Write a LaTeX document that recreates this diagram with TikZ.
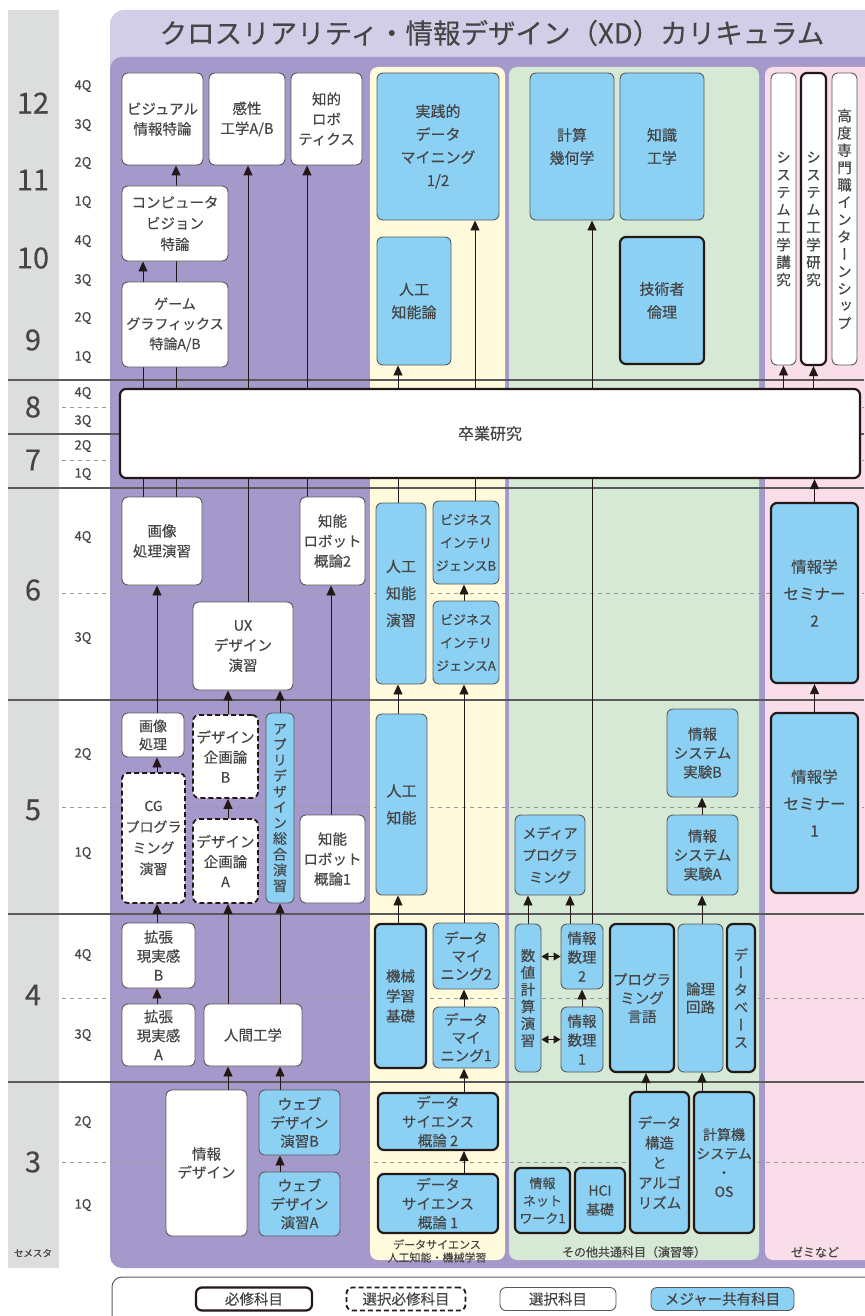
\documentclass[tikz,border=0pt]{standalone}
\usepackage{fontspec}
\setmainfont{Noto Sans CJK JP}[FakeBold=0.3]
\newfontfamily\tatefont[RawFeature=+vert, FakeBold=0.3]{Noto Sans CJK JP}
\usepackage{tikz}
\usetikzlibrary{positioning, arrows.meta, backgrounds}

\definecolor{semgray}{HTML}{DCDDDD}
\definecolor{titlelav}{HTML}{D3CEE7}
\definecolor{xdpurple}{HTML}{A598CA}
\definecolor{dsyellow}{HTML}{FFFADC}
\definecolor{comgreen}{HTML}{D5E9D5}
\definecolor{zemipink}{HTML}{F9DDE9}
\definecolor{majorblue}{HTML}{8CD0F3}
\definecolor{inkgray}{HTML}{454545}
\definecolor{rulegray}{HTML}{5A5A5A}
\definecolor{edgedark}{HTML}{231815}

\pgfdeclarelayer{panels}
\pgfdeclarelayer{wires}
\pgfsetlayers{panels,wires,main}

\begin{document}
\begin{tikzpicture}[x=1pt, y=-1pt,
    box/.style={rounded corners=6pt, draw=rulegray, line width=0.9pt, align=center,
                text=inkgray, inner sep=0pt, font=\fontsize{14.5}{20}\selectfont},
    wbox/.style={box, fill=white},
    bbox/.style={box, fill=majorblue},
    req/.style={draw=edgedark, line width=2.2pt},
    sel/.style={draw=edgedark, line width=1.8pt, dash pattern=on 5pt off 3pt},
    sz/.style 2 args={minimum width=#1pt, minimum height=#2pt},
    fs/.style 2 args={font=\fontsize{#1}{#2}\selectfont},
    tate/.style 2 args={font=\tatefont\fontsize{#1}{#2}\selectfont},
    arr/.style={-{Triangle[length=10pt,width=9pt]}, line width=0.9pt, draw=edgedark},
    dblarr/.style={{Triangle[length=7pt,width=8pt]}-{Triangle[length=7pt,width=8pt]}, line width=0.9pt, draw=edgedark},
    semrule/.style={draw=rulegray, line width=1.1pt},
    qrule/.style={draw=gray!80, line width=0.6pt, dash pattern=on 4pt off 4pt},
    semno/.style={text=inkgray, font=\fontsize{29}{29}\selectfont},
    qlab/.style={text=inkgray, font=\fontsize{13}{13}\selectfont},
    panelcap/.style={text=inkgray, align=center, font=\fontsize{11}{13}\selectfont}]

\useasboundingbox (0,0) rectangle (864,1316);

% Background panels
\begin{pgfonlayer}{panels}
    \fill[semgray] (8,10) rectangle (59,1268);
    \fill[titlelav, rounded corners=14pt] (110,10) rectangle (890,80);
    \fill[xdpurple, rounded corners=12pt] (110,57) rectangle (890,1268);
    \fill[dsyellow, rounded corners=8pt] (370,67) rectangle (505,1260);
    \fill[comgreen, rounded corners=8pt] (509,67) rectangle (759,1260);
    \fill[zemipink, rounded corners=8pt] (765,67) rectangle (890,1260);
    \draw[draw=rulegray, line width=1pt, fill=white, rounded corners=10pt] (112,1277) rectangle (890,1340);
\end{pgfonlayer}

% Semester and quarter rules
\begin{pgfonlayer}{wires}
    \foreach \y in {380,434,488,700,914,1082} {
        \draw[semrule] (8,\y) -- (864,\y);
    }
    \foreach \y in {407,460,593,807,998,1162} {
        \draw[qrule] (62,\y) -- (864,\y);
    }
\end{pgfonlayer}

\node[text=inkgray, font=\fontsize{27.5}{28}\selectfont] (title) at (492,33)
    {クロスリアリティ・情報デザイン（XD）カリキュラム};

% Semester numbers and quarters
\foreach \y/\s in {103/12,180/11,258/10,340/9,407/8,460/7,590/6,810/5,995/4,1162/3} {
    \node[semno] (s\s) at (33,\y) {\s};
}
\foreach \y/\q [count=\k] in {86/4Q,125/3Q,163/2Q,202/1Q,241/4Q,280/3Q,318/2Q,357/1Q,
        393/4Q,421/3Q,446/2Q,474/1Q,537/4Q,638/3Q,754/2Q,853/1Q,955/4Q,1035/3Q,1122/2Q,1205/1Q} {
    \node[qlab] (q\k) at (83,\y) {\q};
}
\node[text=inkgray, font=\fontsize{9.5}{10}\selectfont] (semesta) at (33,1253) {セメスタ};

% XD courses, semesters 9-12
\node[wbox, sz={81}{92}] (vis) at (162.5,119) {ビジュアル\\情報特論};
\node[wbox, sz={76}{92}] (kansei) at (247,119) {感性\\工学A/B};
\node[wbox, sz={71}{92}] (chiteki) at (326.5,119) {知的\\ロボ\\ティクス};
\node[wbox, sz={106}{75}, fs={14.5}{21}] (cv) at (175,223.5) {コンピュータ\\ビジョン\\特論};
\node[wbox, sz={106}{85}, fs={14}{20}] (game) at (175,324.5) {ゲーム\\グラフィックス\\特論A/B};

% Data science, semesters 9-12
\node[bbox, sz={122}{147}, fs={15}{23}] (prdm) at (438,146.5) {実践的\\データ\\マイニング\\1/2};
\node[bbox, sz={74}{128}, fs={15}{23}] (ail) at (414,301) {人工\\知能論};

% Common courses, semesters 9-12
\node[bbox, sz={84}{147}, fs={15}{23}] (geom) at (572,146.5) {計算\\幾何学};
\node[bbox, sz={84}{147}, fs={15}{23}] (know) at (662,146.5) {知識\\工学};
\node[bbox, req, sz={84}{127}, fs={15}{23}] (ethics) at (662,300.5) {技術者\\倫理};

% Seminars, semesters 9-12
\node[wbox, sz={25}{292}, tate={14.5}{17.5}] (kokyu) at (783.5,219) {シ\\ス\\テ\\ム\\工\\学\\講\\究};
\node[wbox, req, sz={25}{292}, tate={14.5}{17.5}] (kenkyu) at (813.5,219) {シ\\ス\\テ\\ム\\工\\学\\研\\究};
\node[wbox, sz={25}{292}, tate={14.5}{17.3}] (intern) at (844.5,219)
    {高\\度\\専\\門\\職\\イ\\ン\\タ\\ー\\ン\\シ\\ッ\\プ};

% Graduation research
\node[wbox, req, sz={740}{89}, fs={16}{20}] (thesis) at (490,433.5) {卒業研究};

% Semester 6
\node[wbox, sz={80}{88}] (imgpe) at (162,541) {画像\\処理演習};
\node[wbox, sz={100}{88}] (ux) at (243,646) {UX\\デザイン\\演習};
\node[wbox, sz={65}{88}] (robo2) at (332.5,541) {知能\\ロボット\\概論2};
\node[bbox, sz={50}{181}, fs={15}{27}] (aipe) at (401,593.5) {人工\\知能\\演習};
\node[bbox, sz={66}{83}, fs={13}{23}] (biB) at (466,542.5) {ビジネス\\インテリ\\ジェンスB};
\node[bbox, sz={66}{83}, fs={13}{23}] (biA) at (466,642.5) {ビジネス\\インテリ\\ジェンスA};
\node[bbox, req, sz={87}{180}, fs={15.5}{27}] (zemi2) at (814.5,593) {情報学\\セミナー\\2};

% Semester 5
\node[wbox, sz={62}{44}, fs={14}{18}] (imgp) at (153,735) {画像\\処理};
\node[wbox, sel, sz={63}{130}, fs={14}{21}] (cg) at (153.5,838) {CG\\プログラ\\ミング\\演習};
\node[wbox, sel, sz={65}{83}] (desB) at (225.5,756.5) {デザイン\\企画論\\B};
\node[wbox, sel, sz={65}{84}] (desA) at (225.5,861) {デザイン\\企画論\\A};
\node[bbox, sz={28}{190}, tate={14}{15.7}] (app) at (280,808) {ア\\プ\\リ\\デ\\ザ\\イ\\ン\\総\\合\\演\\習};
\node[wbox, sz={65}{88}] (robo1) at (332.5,859) {知能\\ロボット\\概論1};
\node[bbox, sz={51}{181}, fs={15}{27}] (ai) at (401.5,804.5) {人工\\知能};
\node[bbox, sz={70}{80}, fs={14}{22}] (media) at (550,855) {メディア\\プログラ\\ミング};
\node[bbox, sz={71}{88}, fs={14.5}{19}] (sysB) at (702.5,753) {情報\\システム\\実験B};
\node[bbox, sz={71}{80}, fs={14.5}{19}] (sysA) at (702.5,855) {情報\\システム\\実験A};
\node[bbox, req, sz={87}{180}, fs={15.5}{27}] (zemi1) at (814.5,803) {情報学\\セミナー\\1};

% Semester 4
\node[wbox, sz={73}{65}, fs={14.5}{19}] (arB) at (158.5,955.5) {拡張\\現実感\\B};
\node[wbox, sz={73}{62}, fs={14.5}{19}] (arA) at (158.5,1035) {拡張\\現実感\\A};
\node[wbox, sz={98}{62}] (hum) at (253,1035) {人間工学};
\node[bbox, req, sz={51}{144}] (ml) at (400.5,996) {機械\\学習\\基礎};
\node[bbox, sz={66}{66}, fs={14.5}{18}] (dm2) at (466,956) {データ\\マイ\\ニング2};
\node[bbox, sz={66}{61}, fs={14.5}{18}] (dm1) at (466,1037.5) {データ\\マイ\\ニング1};
\node[bbox, sz={26}{148}, tate={14.5}{17}] (num) at (528,998) {数\\値\\計\\算\\演\\習};
\node[bbox, sz={42}{65}, fs={14.5}{19}] (math2) at (582,956.5) {情報\\数理\\2};
\node[bbox, sz={42}{65}, fs={14.5}{19}] (math1) at (582,1039.5) {情報\\数理\\1};
\node[bbox, req, sz={64}{148}, fs={14.5}{18.5}] (plang) at (642,998) {プログラ\\ミング\\言語};
\node[bbox, sz={45}{148}, fs={14.5}{18}] (lc) at (700.5,998) {論理\\回路};
\node[bbox, req, sz={28}{148}, tate={14.5}{17.5}] (db) at (741,998) {デ\\ー\\タ\\ベ\\ー\\ス};

% Semester 3
\node[wbox, sz={81}{146}, fs={14.5}{18.5}] (infd) at (206.5,1163) {情報\\デザイン};
\node[bbox, sz={81}{65}, fs={14.5}{18.5}] (webB) at (299.5,1122.5) {ウェブ\\デザイン\\演習B};
\node[bbox, sz={81}{64}, fs={14.5}{18.5}] (webA) at (299.5,1204) {ウェブ\\デザイン\\演習A};
\node[bbox, req, sz={120}{57}, fs={14.5}{19}] (ds2) at (438,1121.5) {データ\\サイエンス\\概論 2};
\node[bbox, req, sz={120}{59}, fs={14.5}{19}] (ds1) at (438,1203.5) {データ\\サイエンス\\概論 1};
\node[bbox, req, sz={55}{65}, fs={13}{17.5}] (net) at (542.5,1200.5) {情報\\ネット\\ワーク1};
\node[bbox, req, sz={50}{65}, fs={14}{19}] (hci) at (600,1200.5) {HCI\\基礎};
\node[bbox, req, sz={59}{141}, fs={14.5}{20}] (dsa) at (659.5,1162.5) {データ\\構造\\と\\アルゴ\\リズム};
\node[bbox, req, sz={60}{141}, fs={14}{19}] (cos) at (724,1162.5) {計算機\\システム\\・\\OS};

% Panel captions
\node[panelcap] (capds) at (437,1251) {データサイエンス\\人工知能・機械学習};
\node[panelcap, font=\fontsize{12}{13}\selectfont] (capcom) at (634,1252) {その他共通科目（演習等）};
\node[panelcap, font=\fontsize{12}{13}\selectfont] (capzemi) at (815,1252) {ゼミなど};

% Legend
\node[wbox, req, sz={116}{23}] (lgreq) at (254,1299) {必修科目};
\node[wbox, sel, sz={119}{23}] (lgsel) at (406,1299) {選択必修科目};
\node[wbox, sz={116}{23}] (lgopt) at (558,1299) {選択科目};
\node[bbox, sz={143}{23}] (lgmaj) at (722.5,1299) {メジャー共有科目};

% Columns of the prerequisite lines
\coordinate (xa) at (143,0);
\coordinate (xb) at (157,0);
\coordinate (xc) at (176,0);
\coordinate (xd) at (228,0);
\coordinate (xe) at (248,0);
\coordinate (xf) at (280,0);
\coordinate (xg) at (307,0);
\coordinate (xh) at (331,0);
\coordinate (xi) at (398,0);
\coordinate (xj) at (464,0);
\coordinate (xk) at (475,0);
\coordinate (xm) at (570,0);
\coordinate (xo) at (592,0);
\coordinate (xp) at (646,0);
\coordinate (xq) at (702,0);

\begin{pgfonlayer}{wires}
    % XD courses
    \draw[arr] (imgpe.north -| xa) -- (cv.south -| xa);
    \draw[arr] (imgpe.north -| xc) -- (vis.south -| xc);
    \draw[arr] (ux.north -| xe) -- (kansei.south -| xe);
    \draw[arr] (robo2.north -| xg) -- (chiteki.south -| xg);
    \draw[arr] (imgp.north -| xb) -- (imgpe.south -| xb);
    \draw[arr] (cg.north -| xb) -- (imgp.south -| xb);
    \draw[arr] (arB.north -| xb) -- (cg.south -| xb);
    \draw[arr] (arA.north -| xb) -- (arB.south -| xb);
    \draw[arr] (desB.north -| xd) -- (ux.south -| xd);
    \draw[arr] (desA.north -| xd) -- (desB.south -| xd);
    \draw[arr] (hum.north -| xd) -- (desA.south -| xd);
    \draw[arr] (infd.north -| xd) -- (hum.south -| xd);
    \draw[arr] (app.north -| xf) -- (ux.south -| xf);
    \draw[arr] (hum.north -| xf) -- (app.south -| xf);
    \draw[arr] (webB.north -| xf) -- (hum.south -| xf);
    \draw[arr] (webA.north -| xf) -- (webB.south -| xf);
    \draw[arr] (robo1.north -| xh) -- (robo2.south -| xh);

    % Data science
    \draw[arr] (aipe.north -| xi) -- (ail.south -| xi);
    \draw[arr] (ai.north -| xi) -- (aipe.south -| xi);
    \draw[arr] (ml.north -| xi) -- (ai.south -| xi);
    \draw[arr] (biB.north -| xk) -- (prdm.south -| xk);
    \draw[arr] (biA.north -| xj) -- (biB.south -| xj);
    \draw[arr] (dm2.north -| xj) -- (biA.south -| xj);
    \draw[arr] (dm1.north -| xj) -- (dm2.south -| xj);
    \draw[arr] (ds2.north -| xj) -- (dm1.south -| xj);
    \draw[arr] (ds1.north -| xj) -- (ds2.south -| xj);

    % Common courses
    \draw[arr] (num.north) -- (media.south -| num.north);
    \draw[arr] (math2.north -| xm) -- (media.south -| xm);
    \draw[arr] (math2.north -| xo) -- (geom.south -| xo);
    \draw[arr] (math1.north) -- (math2.south);
    \draw[dblarr] (num.east |- math2.west) -- (math2.west);
    \draw[dblarr] (num.east |- math1.west) -- (math1.west);
    \draw[arr] (dsa.north -| xp) -- (plang.south -| xp);
    \draw[arr] (lc.north -| xq) -- (sysA.south -| xq);
    \draw[arr] (sysA.north -| xq) -- (sysB.south -| xq);
    \draw[arr] (cos.north -| xq) -- (lc.south -| xq);

    % Seminars
    \draw[arr] (thesis.north -| kokyu.south) -- (kokyu.south);
    \draw[arr] (thesis.north -| kenkyu.south) -- (kenkyu.south);
    \draw[arr] (zemi2.north) -- (thesis.south -| zemi2.north);
    \draw[arr] (zemi1.north) -- (zemi2.south);
\end{pgfonlayer}
\end{tikzpicture}
\end{document}
